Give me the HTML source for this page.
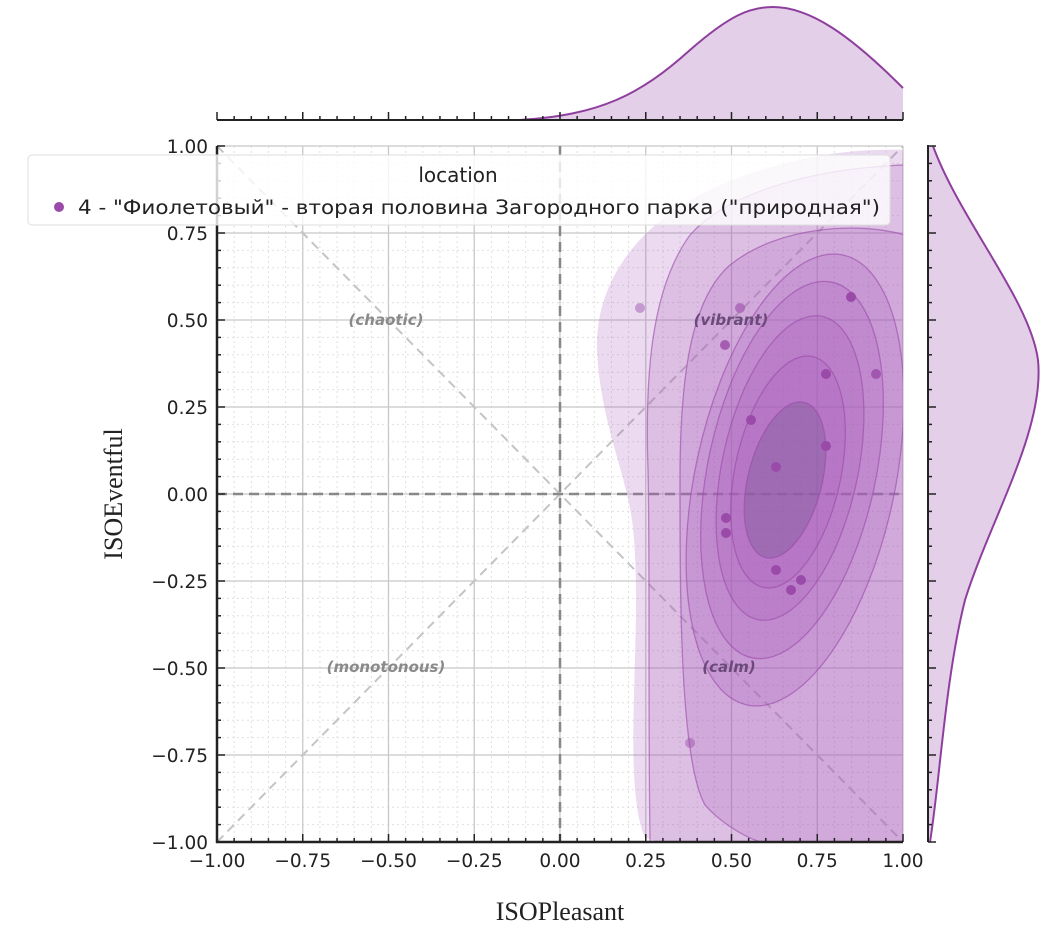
<!DOCTYPE html>
<html><head><meta charset="utf-8"><style>
html,body{margin:0;padding:0;background:#fff;width:1063px;height:949px;overflow:hidden}
svg{display:block}
</style></head><body>
<svg id="s" width="1063" height="949" viewBox="0 0 1063 949" xmlns="http://www.w3.org/2000/svg" font-family="'DejaVu Sans','Liberation Sans',sans-serif">
<defs><clipPath id="c"><rect x="217" y="146" width="686" height="696"/></clipPath></defs>
<g id="grid"></g>
<g stroke="#c4c4c4" stroke-width="2" stroke-dasharray="9,6" fill="none">
<line x1="217" y1="146" x2="903" y2="842"/>
<line x1="217" y1="842" x2="903" y2="146"/>
</g>
<g stroke="#888" stroke-width="2.5" stroke-dasharray="10,6">
<line x1="217" y1="494" x2="903" y2="494"/>
<line x1="560" y1="146" x2="560" y2="842"/>
</g>
<g clip-path="url(#c)" fill="#a85bbb" fill-opacity="0.22" stroke="#9a4aa8" stroke-opacity="0.6" stroke-width="1.3">
<path d="M645,838 C620,780 645,620 632,520 C625,470 600,420 597,350 C595,280 640,220 720,185 C790,155 860,148 905,150 L905,842 L660,842 Z" stroke="none"/>
<path d="M650,842 C648,700 650,560 648,470 C645,380 650,290 690,235 C730,190 820,168 905,165 L905,842 Z"/>
<path d="M705,805 C680,760 680,600 680,480 C680,380 690,300 730,265 C780,225 860,222 905,235 L905,842 L760,842 C740,835 718,820 705,805 Z"/>
<ellipse cx="795" cy="480" rx="100" ry="230" transform="rotate(12 795 480)"/>
<ellipse cx="792" cy="470" rx="84" ry="192" transform="rotate(12 792 470)"/>
<ellipse cx="790" cy="468" rx="68" ry="155" transform="rotate(12 790 468)"/>
<ellipse cx="788" cy="472" rx="53" ry="118" transform="rotate(12 788 472)"/>
<ellipse cx="785" cy="480" rx="37" ry="80" transform="rotate(14 785 480)" fill="#7a5a96" fill-opacity="0.4"/>
</g>
<g fill="#9a4aa8">
<circle cx="640" cy="308" r="5" opacity="0.45"/><circle cx="740" cy="308" r="5" opacity="0.6"/>
<circle cx="725" cy="345" r="5" opacity="0.8"/><circle cx="851" cy="297" r="5"/>
<circle cx="826" cy="374" r="5"/><circle cx="876" cy="374" r="5" opacity="0.8"/>
<circle cx="751" cy="420" r="5"/><circle cx="826" cy="446" r="5"/>
<circle cx="776" cy="467" r="5"/><circle cx="726" cy="518" r="5"/>
<circle cx="726" cy="533" r="5"/><circle cx="776" cy="570" r="5"/>
<circle cx="801" cy="580" r="5"/><circle cx="791" cy="590" r="5"/>
<circle cx="690" cy="743" r="5" opacity="0.45"/>
</g>
<g font-style="italic" font-weight="bold" font-size="15" fill="#8a8a8a" text-anchor="middle">
<text x="386" y="325">(chaotic)</text>
<text x="731" y="325" fill="#6a4a7a">(vibrant)</text>
<text x="386" y="672">(monotonous)</text>
<text x="729" y="672" fill="#6a4a7a">(calm)</text>
</g>
<g id="ticks" stroke="#222" stroke-width="1.5"></g>
<line x1="217" y1="146" x2="217" y2="843" stroke="#222" stroke-width="2.5"/>
<line x1="216" y1="842" x2="903" y2="842" stroke="#222" stroke-width="2.5"/>
<g id="lbl" font-size="18.5" fill="#222"></g>
<rect x="28" y="155" width="862" height="70" rx="4" fill="#fff" fill-opacity="0.8" stroke="#ddd"/>
<text x="458" y="182" font-size="20" text-anchor="middle" fill="#222">location</text>
<circle cx="59" cy="207" r="5" fill="#9a4aa8"/>
<text x="78" y="214" font-size="19.8" fill="#222" textLength="802" lengthAdjust="spacingAndGlyphs">4 - "Фиолетовый" - вторая половина Загородного парка ("природная")</text>
<path d="M520,120 C600,115 640,95 690,50 C730,15 750,7 773,7 C810,7 850,35 903,88 L903,120 Z" fill="#e4cfe8"/>
<path d="M520,120 C600,115 640,95 690,50 C730,15 750,7 773,7 C810,7 850,35 903,88" fill="none" stroke="#8e3f9e" stroke-width="2"/>
<line x1="217" y1="120" x2="903" y2="120" stroke="#222" stroke-width="2"/>
<g id="tt" stroke="#222" stroke-width="1.5"></g>
<path d="M928,146 L933,146 C960,220 1030,300 1038,360 C1045,430 990,520 965,600 C945,680 940,780 930,842 L928,842 Z" fill="#e4cfe8"/>
<path d="M933,146 C960,220 1030,300 1038,360 C1045,430 990,520 965,600 C945,680 940,780 930,842" fill="none" stroke="#8e3f9e" stroke-width="2"/>
<line x1="928" y1="145" x2="928" y2="842" stroke="#222" stroke-width="2"/>
<g id="rt" stroke="#222" stroke-width="1.5"></g>
<text x="560" y="920" font-family="'Liberation Serif',serif" font-size="26" text-anchor="middle" fill="#222">ISOPleasant</text>
<text transform="translate(122 494) rotate(-90)" font-family="'Liberation Serif',serif" font-size="26" text-anchor="middle" fill="#222">ISOEventful</text>
</svg>
<script>
var NS="http://www.w3.org/2000/svg";
function el(p,t,a){var e=document.createElementNS(NS,t);for(var k in a)e.setAttribute(k,a[k]);document.getElementById(p).appendChild(e);return e;}
function px(x){return 560+343*x;} function py(y){return 494-348*y;}
for(var i=-20;i<=20;i++){var v=i/20,maj=(i%5==0);
 var X=px(v),Y=py(v);
 el("grid","line",{x1:X,y1:146,x2:X,y2:842,stroke:maj?"#c8c8c8":"#e0e0e0","stroke-width":maj?1.3:1,"stroke-dasharray":maj?"":"2,3"});
 el("grid","line",{x1:217,y1:Y,x2:903,y2:Y,stroke:maj?"#c8c8c8":"#e0e0e0","stroke-width":maj?1.3:1,"stroke-dasharray":maj?"":"2,3"});
 var L=maj?8:4;
 el("ticks","line",{x1:X,y1:842,x2:X,y2:842-L});
 el("ticks","line",{x1:217,y1:Y,x2:217+L,y2:Y});
 el("tt","line",{x1:X,y1:120,x2:X,y2:120-L});
 el("rt","line",{x1:928,y1:Y,x2:928+L,y2:Y});
 if(maj){var s=(v<0?"\u2212":"")+Math.abs(v).toFixed(2);
  var t=el("lbl","text",{x:X,y:867,"text-anchor":"middle"});t.textContent=s;
  var u=el("lbl","text",{x:208,y:Y+7,"text-anchor":"end"});u.textContent=s;}
}
</script>
</body></html>
